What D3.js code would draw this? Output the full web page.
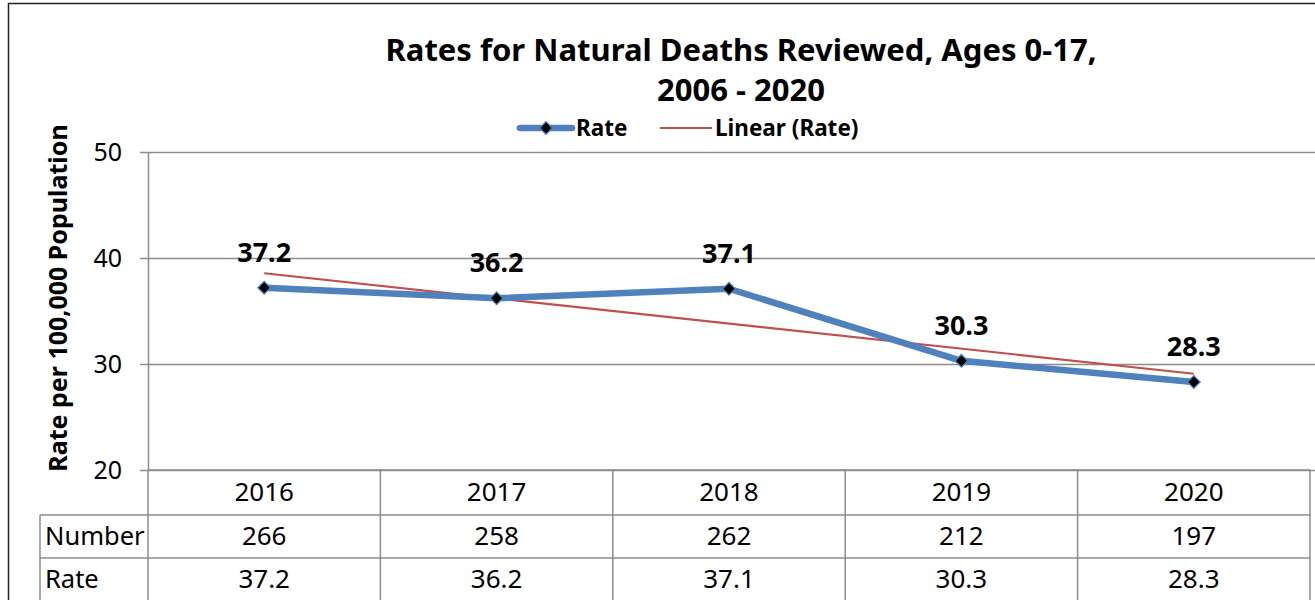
<!DOCTYPE html>
<html>
<head>
<meta charset="utf-8">
<script src="https://cdn.jsdelivr.net/npm/d3@7"></script>
<style>
  body { margin: 0; background: #fff; }
  svg text { font-family: "Noto Sans", sans-serif; fill: #000; }
</style>
</head>
<body>
<div id="chart"></div>
<script>
// data
var years = ['2016', '2017', '2018', '2019', '2020'];
var rates = [37.2, 36.2, 37.1, 30.3, 28.3];
var numbers = [266, 258, 262, 212, 197];
var yTicks = [20, 30, 40, 50];

var W = 1315, H = 600;
var margin = {top: 152, right: 5, bottom: 130, left: 148};
var width = W - margin.left - margin.right,
    height = H - margin.top - margin.bottom;

var svg = d3.select('#chart')
  .append('svg')
    .attr('width', W)
    .attr('height', H);

// outer chart border
svg.append('rect')
  .attr('x', 8.5).attr('y', 3.5)
  .attr('width', W).attr('height', H)
  .attr('fill', 'none')
  .attr('stroke', '#222')
  .attr('stroke-width', 1.5);

var g = svg.append('g')
  .attr('transform', 'translate(' + margin.left + ',' + margin.top + ')');

var x = d3.scaleBand()
  .domain(years)
  .range([0, width]);

var y = d3.scaleLinear()
  .domain([20, 50])
  .range([height, 0]);

// gridlines + ticks
g.append('g')
  .attr('class', 'grid')
  .call(d3.axisLeft(y).tickValues(yTicks).tickSize(-width - 8).tickFormat(''))
  .call(function(s) {
    s.select('.domain').remove();
    s.selectAll('line').attr('stroke', '#8c8c8c').attr('stroke-width', 1.5).attr('x1', -8);
  });

// y axis line + labels
var yAxis = g.append('g')
  .call(d3.axisLeft(y).tickValues(yTicks).tickSize(0).tickPadding(26));
yAxis.select('.domain').attr('stroke', '#8c8c8c').attr('stroke-width', 1.5);
yAxis.selectAll('text')
  .style('font-size', '25px')
  .style('font-family', '"Noto Sans", sans-serif')
  .attr('fill', '#000');

// y axis title
svg.append('text')
  .attr('transform', 'translate(67,' + (margin.top + height / 2 - 13) + ') rotate(-90)')
  .attr('text-anchor', 'middle')
  .style('font-size', '25px')
  .style('font-weight', 'bold')
  .text('Rate per 100,000 Population');

// chart title
svg.append('text')
  .attr('x', 741).attr('y', 61)
  .attr('text-anchor', 'middle')
  .style('font-size', '31px')
  .style('font-weight', 'bold')
  .text('Rates for Natural Deaths Reviewed, Ages 0-17,');
svg.append('text')
  .attr('x', 741).attr('y', 101)
  .attr('text-anchor', 'middle')
  .style('font-size', '31px')
  .style('font-weight', 'bold')
  .text('2006 - 2020');

// linear trendline (least squares, like Excel)
var xs = years.map(function(d, i) { return i + 1; });
var mx = d3.mean(xs), my = d3.mean(rates);
var slope = d3.sum(xs, function(v, i) { return (v - mx) * (rates[i] - my); }) /
            d3.sum(xs, function(v) { return (v - mx) * (v - mx); });
var icpt = my - slope * mx;

var cx = function(d, i) { return x(years[i]) + x.bandwidth() / 2; };

g.append('line')
  .attr('x1', cx(null, 0))
  .attr('y1', y(icpt + slope * 1))
  .attr('x2', cx(null, years.length - 1))
  .attr('y2', y(icpt + slope * years.length))
  .attr('stroke', '#C0504D')
  .attr('stroke-width', 2.2);

// rate line
var line = d3.line()
  .x(function(d, i) { return cx(d, i); })
  .y(function(d) { return y(d); });

g.append('path')
  .datum(rates)
  .attr('d', line)
  .attr('fill', 'none')
  .attr('stroke', '#4F81BD')
  .attr('stroke-width', 6.5)
  .attr('stroke-linejoin', 'round');

// square rotated 45deg = Excel's diamond marker
var diamond = d3.symbol().type(d3.symbolSquare).size(80);

g.selectAll('.marker')
  .data(rates)
  .enter()
  .append('path')
    .attr('class', 'marker')
    .attr('d', diamond)
    .attr('transform', function(d, i) { return 'translate(' + cx(d, i) + ',' + y(d) + ') rotate(45)'; })
    .attr('fill', '#000')
    .attr('stroke', '#4F81BD')
    .attr('stroke-width', 1.3);

// data labels
g.selectAll('.dlabel')
  .data(rates)
  .enter()
  .append('text')
    .attr('class', 'dlabel')
    .attr('x', cx)
    .attr('y', function(d) { return y(d) - 26; })
    .attr('text-anchor', 'middle')
    .style('font-size', '27px')
    .style('font-weight', 'bold')
    .text(function(d) { return d.toFixed(1); });

// legend
var lg = svg.append('g');
lg.append('line')
  .attr('x1', 520).attr('x2', 572).attr('y1', 128).attr('y2', 128)
  .attr('stroke', '#4F81BD').attr('stroke-width', 6.5).attr('stroke-linecap', 'round');
lg.append('path')
  .attr('d', diamond)
  .attr('transform', 'translate(546,128) rotate(45)')
  .attr('fill', '#000').attr('stroke', '#4F81BD').attr('stroke-width', 1.3);
lg.append('text')
  .attr('x', 576).attr('y', 136)
  .style('font-size', '22.5px').style('font-weight', 'bold')
  .text('Rate');
lg.append('line')
  .attr('x1', 660).attr('x2', 712).attr('y1', 128).attr('y2', 128)
  .attr('stroke', '#C0504D').attr('stroke-width', 2.2);
lg.append('text')
  .attr('x', 715).attr('y', 136)
  .style('font-size', '22.5px').style('font-weight', 'bold')
  .text('Linear (Rate)');

// data table under the axis
var rowTops = [height, height + 45, height + 88, height + 140];
var tableLeft = 40 - margin.left;
var tcol = '#8c8c8c';
var tg = g.append('g');

// horizontal rules
tg.append('line')
  .attr('x1', 0).attr('x2', width).attr('y1', rowTops[0]).attr('y2', rowTops[0])
  .attr('stroke', tcol).attr('stroke-width', 1.5);
[1, 2].forEach(function(r) {
  tg.append('line')
    .attr('x1', tableLeft).attr('x2', width).attr('y1', rowTops[r]).attr('y2', rowTops[r])
    .attr('stroke', tcol).attr('stroke-width', 1.5);
});

// vertical rules
var edges = years.map(function(d) { return x(d); }).concat([width]);
edges.forEach(function(e) {
  tg.append('line')
    .attr('x1', e).attr('x2', e).attr('y1', rowTops[0]).attr('y2', rowTops[3])
    .attr('stroke', tcol).attr('stroke-width', 1.5);
});
tg.append('line')
  .attr('x1', tableLeft).attr('x2', tableLeft).attr('y1', rowTops[1]).attr('y2', rowTops[3])
  .attr('stroke', tcol).attr('stroke-width', 1.5);

// category labels
tg.selectAll('.year')
  .data(years)
  .enter()
  .append('text')
    .attr('x', function(d) { return x(d) + x.bandwidth() / 2; })
    .attr('y', rowTops[0] + 31)
    .attr('text-anchor', 'middle')
    .style('font-size', '26px')
    .text(function(d) { return d; });

var rows = [
  {name: 'Number', vals: numbers.map(String)},
  {name: 'Rate', vals: rates.map(function(d) { return d.toFixed(1); })}
];
rows.forEach(function(r, ri) {
  var ty = rowTops[ri + 1] + 30;
  tg.append('text')
    .attr('x', tableLeft + 5).attr('y', ty)
    .style('font-size', '25.5px')
    .text(r.name);
  tg.selectAll('.v' + ri)
    .data(r.vals)
    .enter()
    .append('text')
      .attr('x', function(d, i) { return x(years[i]) + x.bandwidth() / 2; })
      .attr('y', ty)
      .attr('text-anchor', 'middle')
      .style('font-size', '26px')
      .text(function(d) { return d; });
});
</script>
</body>
</html>
